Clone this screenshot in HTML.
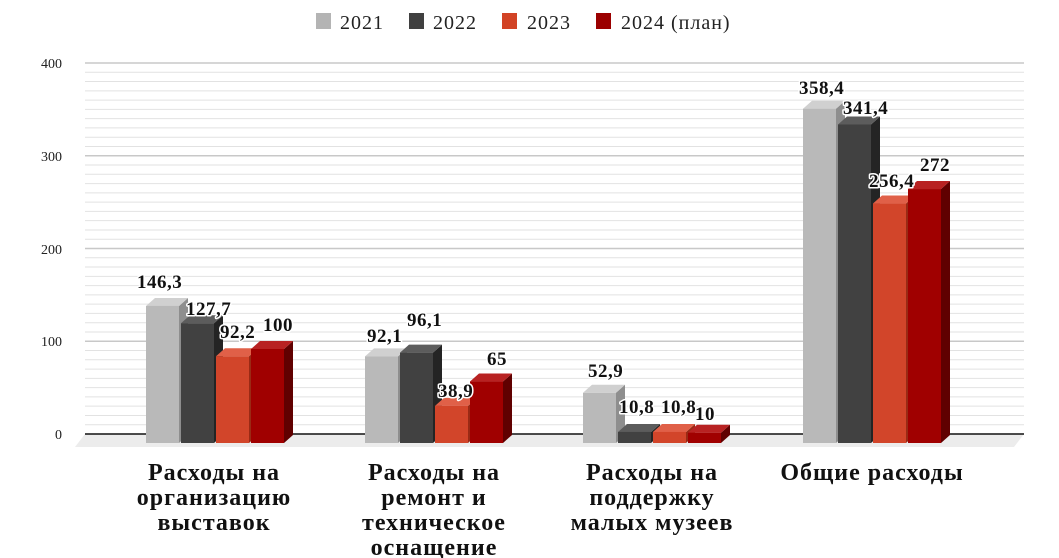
<!DOCTYPE html>
<html><head><meta charset="utf-8"><style>
body{margin:0;background:#fff}
svg{display:block}
text{font-family:"Liberation Serif",serif}
.v{font-weight:bold;font-size:19px;letter-spacing:0.5px;fill:#111;stroke:#fff;stroke-width:3px;paint-order:stroke;stroke-linejoin:round}
.c{font-weight:bold;font-size:24px;letter-spacing:1px;fill:#111;text-anchor:middle}
.y{font-size:14px;fill:#222;text-anchor:end}
.l{font-size:20px;letter-spacing:1px;fill:#222}
</style></head><body>
<svg width="1059" height="558" viewBox="0 0 1059 558">
<g id="grid"></g>
<polygon points="85,434 1024,434 1014,447 75,447" fill="#ececec"/>
<line x1="85" y1="434" x2="1024" y2="434" stroke="#111" stroke-width="1.5"/>
<g id="bars"></g>
<g id="labels"></g>
<text class="y" x="62" y="68">400</text>
<text class="y" x="62" y="161">300</text>
<text class="y" x="62" y="254">200</text>
<text class="y" x="62" y="346">100</text>
<text class="y" x="62" y="439">0</text>
<rect x="316" y="13" width="15" height="16" fill="#b4b4b4"/><text class="l" x="340" y="29">2021</text>
<rect x="409" y="13" width="15" height="16" fill="#404040"/><text class="l" x="433" y="29">2022</text>
<rect x="502" y="13" width="15" height="16" fill="#d24325"/><text class="l" x="527" y="29">2023</text>
<rect x="596" y="13" width="15" height="16" fill="#9b0000"/><text class="l" x="621" y="29">2024 (план)</text>
<text class="c" x="214" y="480">Расходы на</text><text class="c" x="214" y="505">организацию</text><text class="c" x="214" y="530">выставок</text>
<text class="c" x="434" y="480">Расходы на</text><text class="c" x="434" y="505">ремонт и</text><text class="c" x="434" y="530">техническое</text><text class="c" x="434" y="555">оснащение</text>
<text class="c" x="652" y="480">Расходы на</text><text class="c" x="652" y="505">поддержку</text><text class="c" x="652" y="530">малых музеев</text>
<text class="c" x="872" y="480">Общие расходы</text>
</svg>
<script>
var ns="http://www.w3.org/2000/svg";
function el(p,t,a,txt){var e=document.createElementNS(ns,t);for(var k in a)e.setAttribute(k,a[k]);if(txt)e.textContent=txt;document.getElementById(p).appendChild(e);}
for(var i=1;i<=40;i++){var y=434-i*9.275;el("grid","line",{x1:85,x2:1024,y1:y,y2:y,stroke:i%10==0?"#c8c8c8":"#e2e2e2","stroke-width":i%10==0?1.5:1});}
var cols=[["#b9b9b9","#d0d0d0","#8e8e8e"],["#414141","#5c5c5c","#242424"],["#d2452a","#e06048","#9a2a15"],["#a00000","#b82222","#600000"]];
var data=[[146.3,127.7,92.2,100],[92.1,96.1,38.9,65],[52.9,10.8,10.8,10],[358.4,341.4,256.4,272]];
var starts=[146,365,583,803];
var lab=[["146,3",137,288],["127,7",186,315],["92,2",220,338],["100",263,331],["92,1",367,342],["96,1",407,326],["38,9",438,397],["65",487,365],["52,9",588,377],["10,8",619,413],["10,8",661,413],["10",695,420],["358,4",799,94],["341,4",843,114],["256,4",869,187],["272",920,171]];
for(var g=0;g<4;g++)for(var s=0;s<4;s++){
 var x=starts[g]+s*35,w=33,b=443,t=b-data[g][s]*0.93-1,d=9,h=8,c=cols[s];
 el("bars","polygon",{points:(x+w)+","+t+" "+(x+w+d)+","+(t-h)+" "+(x+w+d)+","+(b-h)+" "+(x+w)+","+b,fill:c[2]});
 el("bars","polygon",{points:x+","+t+" "+(x+d)+","+(t-h)+" "+(x+w+d)+","+(t-h)+" "+(x+w)+","+t,fill:c[1]});
 el("bars","rect",{x:x,y:t,width:w,height:b-t,fill:c[0]});
}
lab.forEach(function(l){el("labels","text",{"class":"v",x:l[1],y:l[2]},l[0]);});
</script>
</body></html>
